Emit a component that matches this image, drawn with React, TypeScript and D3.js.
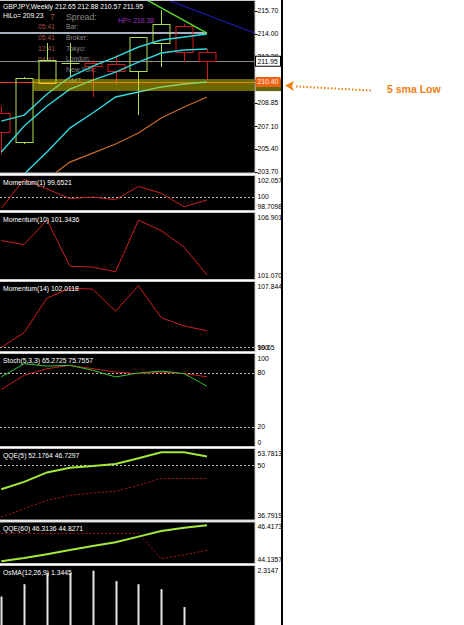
import { useEffect, useRef } from "react";
import * as d3 from "d3";

// Weekly GBPJPY bars, oldest first (last one is the live week)
const weeks = ["w1", "w2", "w3", "w4", "w5", "w6", "w7", "w8", "w9", "w10"];
const open = [208.08, 205.92, 210.32, 211.8, 211.82, 211.74, 211.22, 213.31, 214.58, 212.65];
const high = [208.6, 210.77, 213.31, 213.31, 212.04, 212.41, 213.76, 215.77, 214.73, 212.88];
const low = [205.0, 205.77, 210.25, 210.77, 209.28, 210.17, 207.93, 211.52, 211.89, 210.57];
const close = [206.66, 210.7, 212.04, 211.82, 211.59, 211.22, 213.76, 214.73, 212.64, 211.95];

// moving averages on the price pane
const smaHigh = [207.48, 207.93, 209.5, 210.77, 211.59, 212.26, 213.01, 213.53, 213.76, 213.98];
const smaClose = [205.17, 207.11, 208.61, 209.87, 210.54, 211.14, 211.89, 212.56, 212.79, 212.86];
const smaLow = [null, 203.53, 205.17, 206.96, 208.08, 209.28, 209.65, 210.03, 210.25, 210.4];
const smaSlow = [null, null, 203.15, 204.42, 205.09, 205.77, 206.59, 207.71, 208.53, 209.28];

// drawn objects: trendlines (bar index, price), level lines, zone
const greenTrend = [{ i: 6, p: 216.87 }, { i: 9, p: 214.05 }];
const blueTrend = [{ i: 7, p: 216.7 }, { i: 12, p: 213.47 }];
const greyLevel = { p: 214.05, to: 9 };
const lastPrice = 211.95;
const smaLowPrice = 210.4;
const zone = { from: 1.4, top: 210.62, bottom: 209.72 };
const priceTicks = [215.7, 214.0, 212.3, 210.57, 208.85, 207.1, 205.4, 203.7];

// sub-window indicators
const mom1 = [98.78, 101.82, 100.81, 99.8, 99.96, 99.69, 101.07, 100.36, 98.94, 99.65];
const mom10 = [104.48, 104.12, 106.36, 102.15, 102.06, 101.64, 106.34, 105.38, 103.88, 101.34];
const mom14 = [99.98, 101.78, 106.0, 107.21, 107.09, 104.39, 107.52, 103.59, 102.58, 102.01];
const stochMain = [75.6, 90.3, 87.7, 88.5, 83.0, 75.6, 80.0, 82.2, 79.3, 65.3];
const stochSignal = [61.8, 77.5, 84.8, 88.5, 84.8, 81.1, 79.3, 80.8, 79.3, 75.8];
const qqe5Fast = [44.04, 45.87, 48.22, 49.37, 49.79, 50.29, 51.72, 53.22, 53.22, 52.18];
const qqe5Slow = [37.12, 39.22, 41.29, 42.54, 43.12, 43.54, 45.04, 46.72, 46.72, 46.73];
const qqe60Fast = [44.18, 44.37, 44.6, 44.85, 45.09, 45.31, 45.64, 45.97, 46.16, 46.31];
const qqe60Slow = [45.83, 45.83, 45.83, 45.83, 45.83, 45.83, 45.83, 44.33, 44.56, 44.83];
const osma = [1.82, 2.02, 2.2, 2.2, 2.24, 2.07, 2.02, 1.94, 1.65, 1.34];

const FONT = "'Liberation Sans', Arial, sans-serif";
const PLOT_W = 255;
const EDGE_X = 281;
const UP = "#b0e050";
const DOWN = "#d01818";
const CYAN = "#33d6dd";
const SMALL = 6.8;

type Sel = d3.Selection<SVGSVGElement, unknown, null, undefined>;

export default function App() {
  const svgRef = useRef<SVGSVGElement>(null);

  useEffect(() => {
    const el = svgRef.current;
    if (!el) return;
    const svg: Sel = d3.select(el);
    svg.selectAll("*").remove();

    const x = d3.scaleLinear().domain([0, weeks.length - 1]).range([1.3, 207]);

    // black pane + clip, returns clipped group
    const pane = (id: string, top: number, bottom: number) => {
      svg
        .append("rect")
        .attr("x", -1)
        .attr("y", top)
        .attr("width", PLOT_W + 1)
        .attr("height", bottom - top)
        .attr("fill", "#000")
        .attr("stroke", "#c8c8c8");
      svg
        .append("clipPath")
        .attr("id", id)
        .append("rect")
        .attr("x", 0)
        .attr("y", top + 0.5)
        .attr("width", PLOT_W - 0.5)
        .attr("height", bottom - top - 1);
      return svg.append("g").attr("clip-path", `url(#${id})`);
    };

    const txt = (
      g: d3.Selection<any, unknown, null, undefined>,
      s: string,
      tx: number,
      ty: number,
      fill: string,
      size = SMALL,
    ) =>
      g
        .append("text")
        .attr("x", tx)
        .attr("y", ty)
        .attr("fill", fill)
        .attr("font-family", FONT)
        .attr("font-size", size)
        .text(s);

    const axisLabel = (s: string, ty: number) =>
      svg
        .append("text")
        .attr("x", 257.5)
        .attr("y", ty)
        .attr("dy", "0.35em")
        .attr("fill", "#000")
        .attr("font-family", FONT)
        .attr("font-size", SMALL)
        .attr("clip-path", "url(#axisclip)")
        .text(s);

    svg
      .append("clipPath")
      .attr("id", "axisclip")
      .append("rect")
      .attr("x", PLOT_W)
      .attr("y", 0)
      .attr("width", EDGE_X + 1 - PLOT_W)
      .attr("height", 625);

    // ---------------- main price pane ----------------
    const g = pane("clip-main", 0.5, 173);
    const y = d3.scaleLinear().domain([203.7, 215.7]).range([171.7, 11]);

    // info block (drawn first, chart sits on top of it)
    const times = ["05:41", "05:41", "12:41", "04:41"];
    times.forEach((t, i) => txt(g, t, 38, 29 + i * 11, "#a35242"));
    const names = ["Bar:", "Broker:", "Tokyo:", "London:", "New York:", "GMT:"];
    names.forEach((t, i) => txt(g, t, 66, 29 + i * 10.8, "#8a8a8a"));
    txt(g, "7", 50, 20, "#a0522d", 8.8);
    txt(g, "Spread:", 66, 19.5, "#8c8c8c", 8.8);
    txt(g, "HP= 216.38", 118, 23, "#a030c0");

    // horizontal levels
    g.append("line")
      .attr("x1", 0)
      .attr("x2", x(greyLevel.to))
      .attr("y1", y(greyLevel.p))
      .attr("y2", y(greyLevel.p))
      .attr("stroke", "#a8b0c0")
      .attr("stroke-width", 2);
    g.append("line")
      .attr("x1", 0)
      .attr("x2", PLOT_W)
      .attr("y1", Math.round(y(lastPrice)) + 0.5)
      .attr("y2", Math.round(y(lastPrice)) + 0.5)
      .attr("stroke", "#8a8a8a");
    g.append("line")
      .attr("x1", 0)
      .attr("x2", PLOT_W)
      .attr("y1", Math.round(y(smaLowPrice)) + 0.5)
      .attr("y2", Math.round(y(smaLowPrice)) + 0.5)
      .attr("stroke", "#ff3a10");

    // candles
    const bw = 17;
    weeks.forEach((_w, i) => {
      const up = close[i] >= open[i];
      const col = up ? UP : DOWN;
      const cx = Math.round(x(i)) + 0.5;
      const yTop = y(Math.max(open[i], close[i]));
      const yBot = y(Math.min(open[i], close[i]));
      g.append("line")
        .attr("x1", cx)
        .attr("x2", cx)
        .attr("y1", y(high[i]))
        .attr("y2", yTop)
        .attr("stroke", col);
      g.append("line")
        .attr("x1", cx)
        .attr("x2", cx)
        .attr("y1", yBot)
        .attr("y2", y(low[i]))
        .attr("stroke", col);
      g.append("rect")
        .attr("x", cx - bw / 2)
        .attr("y", Math.round(yTop) + 0.5)
        .attr("width", bw)
        .attr("height", Math.max(0.01, Math.round(yBot - yTop)))
        .attr("fill", "none")
        .attr("stroke", col);
    });

    // moving averages
    const maLine = d3
      .line<number | null>()
      .defined((d) => d !== null)
      .x((_d, i) => x(i))
      .y((d) => y(d as number));
    [smaHigh, smaClose, smaLow].forEach((s) =>
      g.append("path")
        .datum(s as (number | null)[])
        .attr("d", maLine)
        .attr("fill", "none")
        .attr("stroke", CYAN)
        .attr("stroke-width", 1.4),
    );
    g.append("path")
      .datum(smaSlow as (number | null)[])
      .attr("d", maLine)
      .attr("fill", "none")
      .attr("stroke", "#c8692a")
      .attr("stroke-width", 1.3);

    // trendlines
    const tl = d3
      .line<{ i: number; p: number }>()
      .x((d) => x(d.i))
      .y((d) => y(d.p));
    g.append("path")
      .datum(greenTrend)
      .attr("d", tl)
      .attr("fill", "none")
      .attr("stroke", "#58d828")
      .attr("stroke-width", 1.5);
    g.append("path")
      .datum(blueTrend)
      .attr("d", tl)
      .attr("fill", "none")
      .attr("stroke", "#1a1aa8")
      .attr("stroke-width", 1.2);

    // translucent zone over the chart
    g.append("rect")
      .attr("x", x(zone.from))
      .attr("y", y(zone.top))
      .attr("width", PLOT_W - x(zone.from))
      .attr("height", y(zone.bottom) - y(zone.top))
      .attr("fill", "#d8d000")
      .attr("fill-opacity", 0.5);

    txt(g, "GBPJPY,Weekly 212.65 212.88 210.57 211.95", 3, 9, "#fff");
    txt(g, "HiLo= 209.23", 3, 17.5, "#fff");

    // price axis
    priceTicks.forEach((v) => {
      svg.append("line")
        .attr("x1", PLOT_W)
        .attr("x2", PLOT_W + 2.5)
        .attr("y1", Math.round(y(v)) + 0.5)
        .attr("y2", Math.round(y(v)) + 0.5)
        .attr("stroke", "#000");
      axisLabel(v.toFixed(2), y(v));
    });
    svg.append("rect")
      .attr("x", PLOT_W + 0.5)
      .attr("y", y(zone.top))
      .attr("width", EDGE_X - PLOT_W - 0.5)
      .attr("height", y(zone.bottom) - y(zone.top))
      .attr("fill", "#6b6610");
    svg.append("rect")
      .attr("x", PLOT_W + 0.5)
      .attr("y", y(lastPrice) - 5)
      .attr("width", EDGE_X - PLOT_W - 1)
      .attr("height", 10)
      .attr("fill", "#fff")
      .attr("stroke", "#000");
    axisLabel(lastPrice.toFixed(2), y(lastPrice));
    svg.append("rect")
      .attr("x", PLOT_W + 0.5)
      .attr("y", y(smaLowPrice) - 5)
      .attr("width", EDGE_X - PLOT_W - 1)
      .attr("height", 10)
      .attr("fill", "#f06418");
    axisLabel(smaLowPrice.toFixed(2), y(smaLowPrice)).attr("fill", "#ffe8e0");

    // ---------------- sub windows ----------------
    const sub = (
      id: string,
      top: number,
      bottom: number,
      domain: [number, number],
      title: string,
      labels: number[],
      fmt: (v: number) => string,
      levels: number[],
    ) => {
      const sg = pane(id, top, bottom);
      const sy = d3.scaleLinear().domain(domain).range([bottom - 1.5, top + 1.5]);
      levels.forEach((v) =>
        sg.append("line")
          .attr("x1", 0)
          .attr("x2", PLOT_W)
          .attr("y1", Math.round(sy(v)) + 0.5)
          .attr("y2", Math.round(sy(v)) + 0.5)
          .attr("stroke", "#c0c0c0")
          .attr("stroke-dasharray", "2 2"),
      );
      labels.forEach((v) =>
        axisLabel(fmt(v), Math.max(top + 5, Math.min(bottom - 4, sy(v)))),
      );
      return { sg, sy, drawTitle: () => txt(sg, title, 3, top + 9, "#fff") };
    };

    const plot = (
      p: { sg: any; sy: d3.ScaleLinear<number, number> },
      data: number[],
      color: string,
      width = 1,
      dash?: string,
    ) => {
      const ln = d3
        .line<number>()
        .x((_d, i) => x(i))
        .y((d) => p.sy(d));
      const path = p.sg
        .append("path")
        .datum(data)
        .attr("d", ln)
        .attr("fill", "none")
        .attr("stroke", color)
        .attr("stroke-width", width);
      if (dash) path.attr("stroke-dasharray", dash);
    };

    const m1 = sub("c-m1", 175.5, 210.5, [98.7098, 102.0578], "Momentum(1) 99.6521",
      [102.0578, 100, 98.7098], (v) => (v === 100 ? "100" : v.toFixed(4)), [100]);
    plot(m1, mom1, "#d02020");
    m1.drawTitle();

    const m10 = sub("c-m10", 212.5, 279.5, [101.0701, 106.9019], "Momentum(10) 101.3436",
      [106.9019, 101.0701], (v) => v.toFixed(4), []);
    plot(m10, mom10, "#d02020");
    m10.drawTitle();

    const m14 = sub("c-m14", 281.5, 351.5, [99.65, 107.8448], "Momentum(14) 102.0118",
      [107.8448, 100, 99.65], (v) => (v === 100 ? "100" : v === 99.65 ? "99.65" : v.toFixed(4)), [100]);
    plot(m14, mom14, "#d02020");
    m14.drawTitle();

    const st = sub("c-st", 353.5, 446.5, [0, 100], "Stoch(5,3,3) 65.2725 75.7557",
      [100, 80, 20, 0], (v) => String(v), [80, 20]);
    plot(st, stochSignal, "#c81e1e");
    plot(st, stochMain, "#36c236");
    st.drawTitle();

    const q5 = sub("c-q5", 448.5, 520, [36.7919, 53.7813], "QQE(5) 52.1764 46.7297",
      [53.7813, 50, 36.7919], (v) => (v === 50 ? "50" : v.toFixed(4)), [50]);
    plot(q5, qqe5Slow, "#b01818", 1, "2 2");
    plot(q5, qqe5Fast, "#a4e83a", 2);
    q5.drawTitle();

    const q60 = sub("c-q60", 522, 563.5, [44.1357, 46.4173], "QQE(60) 46.3136 44.8271",
      [46.4173, 44.1357], (v) => v.toFixed(4), []);
    plot(q60, qqe60Slow, "#b01818", 1, "2 2");
    plot(q60, qqe60Fast, "#a4e83a", 2);
    q60.drawTitle();

    const os = sub("c-os", 565.5, 640, [0, 2.3147], "OsMA(12,26,9) 1.3445",
      [2.3147], (v) => v.toFixed(4), []);
    const osY = d3.scaleLinear().domain([0, 2.3147]).range([709, 566]);
    os.sg
      .selectAll("rect.bar")
      .data(osma)
      .enter()
      .append("rect")
      .attr("class", "bar")
      .attr("x", (_d: number, i: number) => Math.round(x(i)) - 0.5)
      .attr("y", (d: number) => osY(d))
      .attr("width", 2)
      .attr("height", (d: number) => osY(0) - osY(d))
      .attr("fill", "#e8e8e8");
    os.drawTitle();

    // window edge
    svg.append("rect").attr("x", EDGE_X).attr("y", 0).attr("width", 2).attr("height", 625).attr("fill", "#000");

    // annotation
    svg.append("line")
      .attr("x1", 296)
      .attr("y1", 86.5)
      .attr("x2", 372)
      .attr("y2", 90.5)
      .attr("stroke", "#f08010")
      .attr("stroke-width", 2)
      .attr("stroke-dasharray", "1.5 2");
    svg.append("path")
      .attr("d", "M285,85.5 L294,81 L292,86 L294,91 Z")
      .attr("fill", "#f08010");
    svg.append("text")
      .attr("x", 387)
      .attr("y", 92.5)
      .attr("fill", "#f08018")
      .attr("font-family", FONT)
      .attr("font-weight", "bold")
      .attr("font-size", 10.5)
      .text("5 sma Low");
  }, []);

  return (
    <div style={{ position: "absolute", left: 0, top: 0 }}>
      <svg ref={svgRef} width={464} height={625} style={{ display: "block", background: "#fff" }} />
    </div>
  );
}
